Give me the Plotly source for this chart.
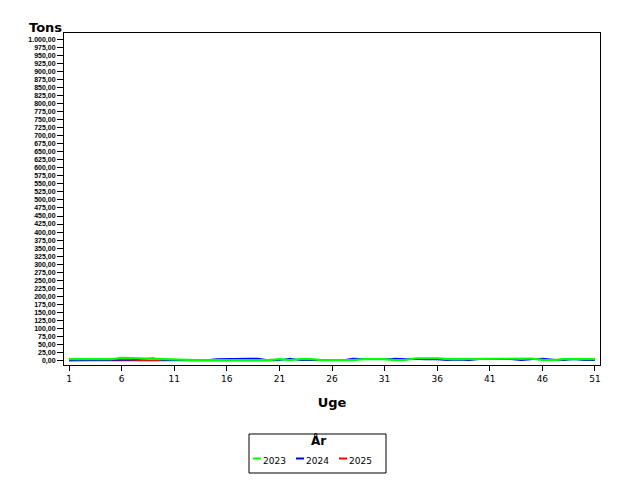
import plotly.graph_objects as go

# weekly tonnage per year (values are tiny)
weeks = list(range(1, 52))

tons_2023 = [4, 4, 4, 4, 4, 8, 7, 4, 4, 4,
             1, 1, 1, 1, 1, 1, 1, 1, 1, 1,
             4, 1, 4, 4, 1, 1, 1, 1, 4, 4,
             4, 1, 2, 7, 7, 7, 4, 4, 6, 4,
             4, 4, 6, 4, 6, 2, 1, 4, 4, 4, 4]

tons_2024 = [0, 0, 0, 0, 0, 2, 2, 5, 7, 1,
             1, 1, 1, 1, 5, 6, 6, 6, 6, 1,
             1, 6, 0.5, 0.5, 1, 1, 1, 6, 4, 4,
             4, 6, 5, 3, 3, 3, 0.5, 2, 0.5, 4,
             4, 4, 4, 0.5, 4, 6, 3, 0.5, 4, 0.5, 0.5]

weeks_2025 = list(range(1, 22))
tons_2025 = [0, 0, 0, 0.5, 0, 0, 0, 0, 0, 0,
             0, 0, 0, 0, 0, 0, 0, 0, 0, 0, 0]

years = ['2023', '2024', '2025']
colors = ['#00ff00', '#0000ff', '#ff0000']

y_ticks = list(range(0, 1001, 25))
x_ticks = list(range(1, 52, 5))

# figure is 8px smaller than the window because of the page body margin
W, H = 632, 472
ML, MR, MT, MB = 56, 40, 25, 115
PW, PH = W - ML - MR, H - MT - MB


def px(x):
    return (x - ML) / PW


def py(y):
    return (H - MB - y) / PH


fig = go.Figure()

# drawn red -> blue -> green so green sits on top
fig.add_trace(go.Scatter(x=weeks_2025, y=tons_2025, mode='lines', name=years[2],
                         line=dict(color=colors[2], width=1.5)))
fig.add_trace(go.Scatter(x=weeks, y=tons_2024, mode='lines', name=years[1],
                         line=dict(color=colors[1], width=1.5)))
fig.add_trace(go.Scatter(x=weeks, y=tons_2023, mode='lines', name=years[0],
                         line=dict(color=colors[0], width=2.2)))

fig.add_annotation(text='<b>Tons</b>', xref='paper', yref='paper', x=0, y=1,
                   xanchor='right', yanchor='bottom', showarrow=False, yshift=-4,
                   font=dict(family='DejaVu Sans', size=13, color='black'))

# compact legend box like the original (short line keys)
fig.add_shape(type='rect', xref='paper', yref='paper',
              x0=px(241), x1=px(378), y0=py(465), y1=py(426),
              line=dict(color='black', width=1), fillcolor='white')
fig.add_annotation(text='<b>År</b>', xref='paper', yref='paper',
                   x=px(310), y=py(432), xanchor='center', yanchor='middle',
                   showarrow=False, font=dict(size=12, color='black'))
for i, (yr, c) in enumerate(zip(years, colors)):
    x0 = 245 + 43 * i
    fig.add_shape(type='line', xref='paper', yref='paper',
                  x0=px(x0), x1=px(x0 + 8), y0=py(450.5), y1=py(450.5),
                  line=dict(color=c, width=2))
    fig.add_annotation(text=yr, xref='paper', yref='paper',
                       x=px(x0 + 8), y=py(453), xanchor='left', yanchor='middle',
                       showarrow=False, font=dict(size=9, color='black'))

fig.update_layout(
    width=W,
    height=H,
    margin=dict(l=ML, r=MR, t=MT, b=MB),
    paper_bgcolor='white',
    plot_bgcolor='white',
    separators=',.',
    showlegend=False,
    font=dict(family='DejaVu Sans', color='black'),
    xaxis=dict(
        range=[0.52, 51.48],
        tickvals=x_ticks,
        ticks='outside', ticklen=5, tickcolor='black',
        tickfont=dict(size=9),
        showgrid=False, zeroline=False,
        showline=True, linecolor='black', linewidth=1, mirror=True,
        title=dict(text='<b>Uge</b>', font=dict(size=13), standoff=15),
    ),
    yaxis=dict(
        range=[-14, 1020],
        tickvals=y_ticks,
        tickformat=',.2f',
        ticks='outside', ticklen=6, tickcolor='black',
        tickfont=dict(family='Liberation Sans', size=7, weight='bold'),
        showgrid=False, zeroline=False,
        showline=True, linecolor='black', linewidth=1, mirror=True,
    ),
)

fig.write_html("out.html")
